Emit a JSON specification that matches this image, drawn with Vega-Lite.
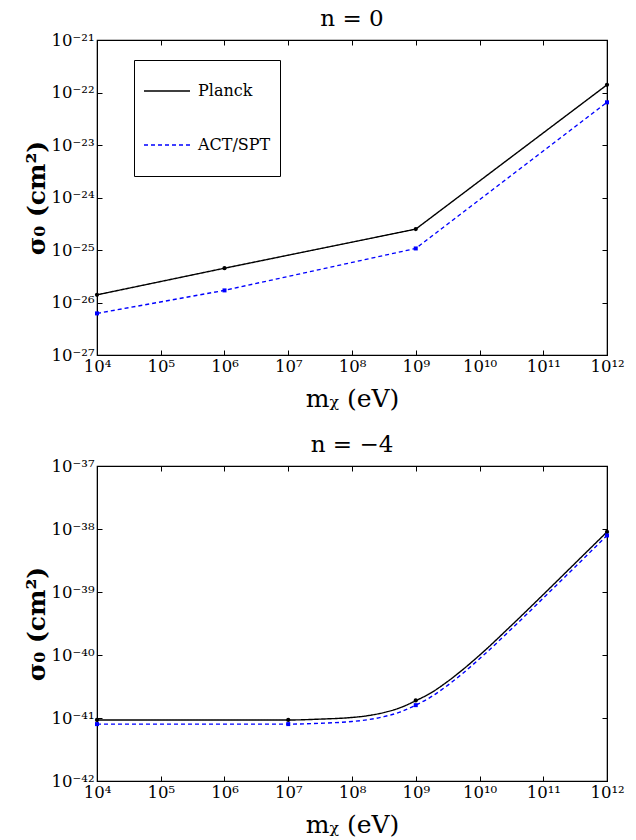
{
  "$schema": "https://vega.github.io/schema/vega-lite/v6.json",
  "background": "white",
  "padding": {"left": 23, "top": 7, "right": 5, "bottom": 0},
  "config": {
    "font": "DejaVu Serif",
    "view": {"stroke": "black", "strokeWidth": 1.2},
    "axis": {
      "grid": false,
      "domainColor": "black",
      "tickColor": "black",
      "labelColor": "black",
      "titleColor": "black",
      "labelFont": "DejaVu Serif",
      "titleFont": "DejaVu Serif",
      "labelFontSize": 16.5,
      "titleFontSize": 25,
      "titleFontWeight": "normal",
      "tickSize": -5,
      "labelPadding": 8
    },
    "title": {"font": "DejaVu Serif", "fontSize": 23, "fontWeight": "normal", "color": "black", "offset": 1, "frame": "group", "anchor": "middle"},
    "legend": {
      "orient": "none",
      "legendX": 37,
      "legendY": 20,
      "strokeColor": "black",
      "fillColor": "white",
      "padding": 9,
      "symbolType": "stroke",
      "symbolSize": 2116,
      "symbolStrokeWidth": 1.5,
      "labelFont": "DejaVu Serif",
      "labelFontSize": 16,
      "labelColor": "black",
      "labelOffset": 7,
      "clipHeight": 44,
      "rowPadding": 10
    }
  },
  "datasets": {
    "top": [
      {"m": 1e4, "sigma": 1.4e-26, "series": "Planck"},
      {"m": 1e6, "sigma": 4.5e-26, "series": "Planck"},
      {"m": 1e9, "sigma": 2.5e-25, "series": "Planck"},
      {"m": 1e12, "sigma": 1.4e-22, "series": "Planck"},
      {"m": 1e4, "sigma": 6.2e-27, "series": "ACT/SPT"},
      {"m": 1e6, "sigma": 1.7e-26, "series": "ACT/SPT"},
      {"m": 1e9, "sigma": 1.07e-25, "series": "ACT/SPT"},
      {"m": 1e12, "sigma": 6.5e-23, "series": "ACT/SPT"}
    ],
    "bottom": [
      {"m": 1e4, "sigma": 9.3e-42, "series": "Planck"},
      {"m": 1e5, "sigma": 9.3e-42, "series": "Planck"},
      {"m": 1e6, "sigma": 9.3e-42, "series": "Planck"},
      {"m": 1e7, "sigma": 9.3e-42, "series": "Planck"},
      {"m": 3.16e7, "sigma": 9.6e-42, "series": "Planck"},
      {"m": 1e8, "sigma": 1.02e-41, "series": "Planck"},
      {"m": 1.78e8, "sigma": 1.09e-41, "series": "Planck"},
      {"m": 3.16e8, "sigma": 1.22e-41, "series": "Planck"},
      {"m": 5.62e8, "sigma": 1.45e-41, "series": "Planck"},
      {"m": 1e9, "sigma": 1.88e-41, "series": "Planck"},
      {"m": 1.78e9, "sigma": 2.55e-41, "series": "Planck"},
      {"m": 3.16e9, "sigma": 3.8e-41, "series": "Planck"},
      {"m": 5.62e9, "sigma": 6.0e-41, "series": "Planck"},
      {"m": 1e10, "sigma": 9.9e-41, "series": "Planck"},
      {"m": 3.16e10, "sigma": 2.94e-40, "series": "Planck"},
      {"m": 1e11, "sigma": 9.1e-40, "series": "Planck"},
      {"m": 3.16e11, "sigma": 2.86e-39, "series": "Planck"},
      {"m": 1e12, "sigma": 9.0e-39, "series": "Planck"},
      {"m": 1e4, "sigma": 8.0e-42, "series": "ACT/SPT"},
      {"m": 1e5, "sigma": 8.0e-42, "series": "ACT/SPT"},
      {"m": 1e6, "sigma": 8.0e-42, "series": "ACT/SPT"},
      {"m": 1e7, "sigma": 8.0e-42, "series": "ACT/SPT"},
      {"m": 3.16e7, "sigma": 8.25e-42, "series": "ACT/SPT"},
      {"m": 1e8, "sigma": 8.8e-42, "series": "ACT/SPT"},
      {"m": 1.78e8, "sigma": 9.4e-42, "series": "ACT/SPT"},
      {"m": 3.16e8, "sigma": 1.05e-41, "series": "ACT/SPT"},
      {"m": 5.62e8, "sigma": 1.24e-41, "series": "ACT/SPT"},
      {"m": 1e9, "sigma": 1.6e-41, "series": "ACT/SPT"},
      {"m": 1.78e9, "sigma": 2.2e-41, "series": "ACT/SPT"},
      {"m": 3.16e9, "sigma": 3.3e-41, "series": "ACT/SPT"},
      {"m": 5.62e9, "sigma": 5.24e-41, "series": "ACT/SPT"},
      {"m": 1e10, "sigma": 8.7e-41, "series": "ACT/SPT"},
      {"m": 3.16e10, "sigma": 2.58e-40, "series": "ACT/SPT"},
      {"m": 1e11, "sigma": 8.0e-40, "series": "ACT/SPT"},
      {"m": 3.16e11, "sigma": 2.5e-39, "series": "ACT/SPT"},
      {"m": 1e12, "sigma": 7.9e-39, "series": "ACT/SPT"}
    ],
    "bottomMarkers": [
      {"m": 1e4, "sigma": 9.3e-42, "series": "Planck"},
      {"m": 1e7, "sigma": 9.3e-42, "series": "Planck"},
      {"m": 1e9, "sigma": 1.9e-41, "series": "Planck"},
      {"m": 1e12, "sigma": 9.0e-39, "series": "Planck"},
      {"m": 1e4, "sigma": 8.0e-42, "series": "ACT/SPT"},
      {"m": 1e7, "sigma": 8.0e-42, "series": "ACT/SPT"},
      {"m": 1e9, "sigma": 1.6e-41, "series": "ACT/SPT"},
      {"m": 1e12, "sigma": 7.9e-39, "series": "ACT/SPT"}
    ]
  },
  "vconcat": [
    {
      "title": {"text": "n = 0"},
      "width": 510,
      "height": 315,
      "data": {"name": "top"},
      "layer": [
        {
          "mark": {"type": "line", "strokeWidth": 1.4},
          "encoding": {
            "x": {"field": "m", "type": "quantitative",
              "scale": {"type": "log", "domain": [1e4, 1e12]},
              "axis": {"orient": "bottom", "title": "mᵪ (eV)", "values": [1e4, 1e5, 1e6, 1e7, 1e8, 1e9, 1e10, 1e11, 1e12],
                "labelExpr": "'10' + (round(log(datum.value)/LN10) < 0 ? '⁻' : '') + (abs(round(log(datum.value)/LN10)) >= 10 ? substring('⁰¹²³⁴⁵⁶⁷⁸⁹', floor(abs(round(log(datum.value)/LN10))/10), floor(abs(round(log(datum.value)/LN10))/10)+1) : '') + substring('⁰¹²³⁴⁵⁶⁷⁸⁹', abs(round(log(datum.value)/LN10))%10, abs(round(log(datum.value)/LN10))%10+1)",
                "labelFlush": false, "titlePadding": 12}},
            "y": {"field": "sigma", "type": "quantitative",
              "scale": {"type": "log", "domain": [1e-27, 1e-21]},
              "axis": {"orient": "left", "title": "σ₀ (cm²)", "titleFontWeight": "bold", "values": [1e-27, 1e-26, 1e-25, 1e-24, 1e-23, 1e-22, 1e-21],
                "labelExpr": "'10' + (round(log(datum.value)/LN10) < 0 ? '⁻' : '') + (abs(round(log(datum.value)/LN10)) >= 10 ? substring('⁰¹²³⁴⁵⁶⁷⁸⁹', floor(abs(round(log(datum.value)/LN10))/10), floor(abs(round(log(datum.value)/LN10))/10)+1) : '') + substring('⁰¹²³⁴⁵⁶⁷⁸⁹', abs(round(log(datum.value)/LN10))%10, abs(round(log(datum.value)/LN10))%10+1)",
                "labelFlush": false, "titlePadding": 2}},
            "color": {"field": "series", "type": "nominal",
              "scale": {"domain": ["Planck", "ACT/SPT"], "range": ["black", "blue"]},
              "legend": {"title": null}},
            "strokeDash": {"field": "series", "type": "nominal",
              "scale": {"domain": ["Planck", "ACT/SPT"], "range": [[1, 0], [4, 3]]},
              "legend": {"title": null}}
          }
        },
        {
          "transform": [{"filter": "datum.series === 'Planck'"}],
          "mark": {"type": "point", "filled": true, "size": 18, "opacity": 1, "shape": "circle", "color": "black"},
          "encoding": {
            "x": {"field": "m", "type": "quantitative",
              "axis": {"orient": "top", "title": null, "labels": false, "values": [1e4, 1e5, 1e6, 1e7, 1e8, 1e9, 1e10, 1e11, 1e12]}},
            "y": {"field": "sigma", "type": "quantitative",
              "axis": {"orient": "right", "title": null, "labels": false, "values": [1e-27, 1e-26, 1e-25, 1e-24, 1e-23, 1e-22, 1e-21]}}
          }
        },
        {
          "transform": [{"filter": "datum.series === 'ACT/SPT'"}],
          "mark": {"type": "point", "filled": true, "size": 16, "opacity": 1, "shape": "square", "color": "blue"},
          "encoding": {
            "x": {"field": "m", "type": "quantitative", "axis": null},
            "y": {"field": "sigma", "type": "quantitative", "axis": null}
          }
        }
      ],
      "resolve": {"axis": {"x": "independent", "y": "independent"}}
    },
    {
      "title": {"text": "n = −4"},
      "width": 510,
      "height": 315,
      "layer": [
        {
          "data": {"name": "bottom"},
          "mark": {"type": "line", "strokeWidth": 1.4, "interpolate": "monotone"},
          "encoding": {
            "x": {"field": "m", "type": "quantitative",
              "scale": {"type": "log", "domain": [1e4, 1e12]},
              "axis": {"orient": "bottom", "title": "mᵪ (eV)", "values": [1e4, 1e5, 1e6, 1e7, 1e8, 1e9, 1e10, 1e11, 1e12],
                "labelExpr": "'10' + (round(log(datum.value)/LN10) < 0 ? '⁻' : '') + (abs(round(log(datum.value)/LN10)) >= 10 ? substring('⁰¹²³⁴⁵⁶⁷⁸⁹', floor(abs(round(log(datum.value)/LN10))/10), floor(abs(round(log(datum.value)/LN10))/10)+1) : '') + substring('⁰¹²³⁴⁵⁶⁷⁸⁹', abs(round(log(datum.value)/LN10))%10, abs(round(log(datum.value)/LN10))%10+1)",
                "labelFlush": false, "titlePadding": 12}},
            "y": {"field": "sigma", "type": "quantitative",
              "scale": {"type": "log", "domain": [1e-42, 1e-37]},
              "axis": {"orient": "left", "title": "σ₀ (cm²)", "titleFontWeight": "bold", "values": [1e-42, 1e-41, 1e-40, 1e-39, 1e-38, 1e-37],
                "labelExpr": "'10' + (round(log(datum.value)/LN10) < 0 ? '⁻' : '') + (abs(round(log(datum.value)/LN10)) >= 10 ? substring('⁰¹²³⁴⁵⁶⁷⁸⁹', floor(abs(round(log(datum.value)/LN10))/10), floor(abs(round(log(datum.value)/LN10))/10)+1) : '') + substring('⁰¹²³⁴⁵⁶⁷⁸⁹', abs(round(log(datum.value)/LN10))%10, abs(round(log(datum.value)/LN10))%10+1)",
                "labelFlush": false, "titlePadding": 2}},
            "color": {"field": "series", "type": "nominal",
              "scale": {"domain": ["Planck", "ACT/SPT"], "range": ["black", "blue"]},
              "legend": {"title": null}},
            "strokeDash": {"field": "series", "type": "nominal",
              "scale": {"domain": ["Planck", "ACT/SPT"], "range": [[1, 0], [4, 3]]},
              "legend": {"title": null}}
          }
        },
        {
          "data": {"name": "bottomMarkers"},
          "transform": [{"filter": "datum.series === 'Planck'"}],
          "mark": {"type": "point", "filled": true, "size": 18, "opacity": 1, "shape": "circle", "color": "black"},
          "encoding": {
            "x": {"field": "m", "type": "quantitative",
              "axis": {"orient": "top", "title": null, "labels": false, "values": [1e4, 1e5, 1e6, 1e7, 1e8, 1e9, 1e10, 1e11, 1e12]}},
            "y": {"field": "sigma", "type": "quantitative",
              "axis": {"orient": "right", "title": null, "labels": false, "values": [1e-42, 1e-41, 1e-40, 1e-39, 1e-38, 1e-37]}}
          }
        },
        {
          "data": {"name": "bottomMarkers"},
          "transform": [{"filter": "datum.series === 'ACT/SPT'"}],
          "mark": {"type": "point", "filled": true, "size": 16, "opacity": 1, "shape": "square", "color": "blue"},
          "encoding": {
            "x": {"field": "m", "type": "quantitative", "axis": null},
            "y": {"field": "sigma", "type": "quantitative", "axis": null}
          }
        }
      ],
      "resolve": {"axis": {"x": "independent", "y": "independent"}}
    }
  ],
  "spacing": 20
}
